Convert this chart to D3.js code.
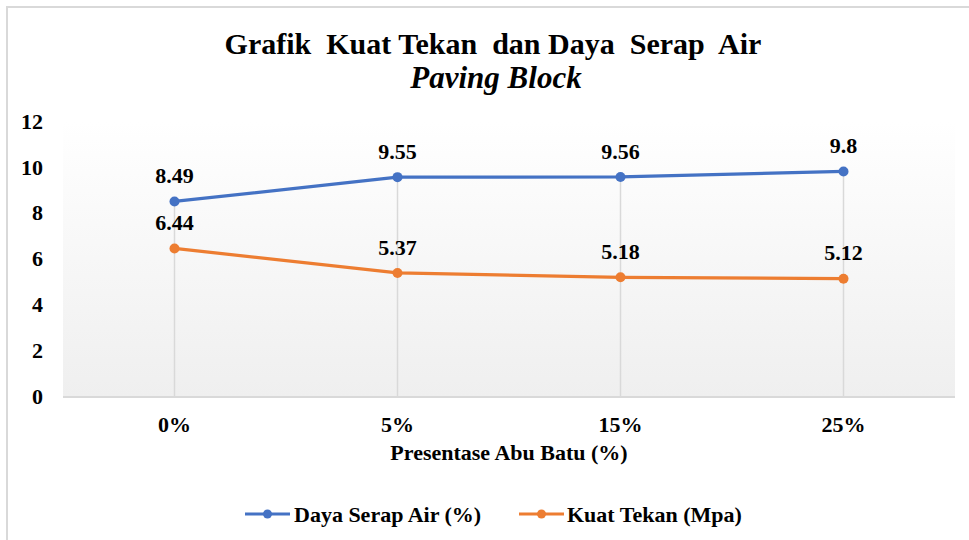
<!DOCTYPE html>
<html><head><meta charset="utf-8">
<script src="https://cdn.jsdelivr.net/npm/d3@7"></script>
<style>body{margin:0;background:#fff}svg{display:block}text{font-family:"Liberation Serif","Times New Roman",serif;font-weight:bold;fill:#000}</style>
</head><body><svg id="c" width="969" height="540"></svg>
<script>
const categories = ["0%","5%","15%","25%"];
const dayaSerapAir = [8.49,9.55,9.56,9.8];
const kuatTekan = [6.44,5.37,5.18,5.12];
const yTicks = [0,2,4,6,8,10,12];
const seriesNames = ["Daya Serap Air (%)","Kuat Tekan (Mpa)"];
const seriesColors = ["#4472C4","#ED7D31"];

const svg = d3.select("#c");
// chart border
svg.append("path").attr("d","M7,545 L7,7 L975,7").attr("fill","none").attr("stroke","#d9d9d9").attr("stroke-width",2);

const x0=63,x1=955,yTop=121,yBot=396;
const x = d3.scaleBand().domain(categories).range([x0,x1]);
const y = d3.scaleLinear().domain([0,12]).range([yBot,yTop]);

const defs=svg.append("defs");
const g=defs.append("linearGradient").attr("id","bg").attr("x1",0).attr("y1",0).attr("x2",0).attr("y2",1);
g.append("stop").attr("offset","0%").attr("stop-color","#ffffff");
g.append("stop").attr("offset","100%").attr("stop-color","#efefef");
svg.append("rect").attr("x",x0).attr("y",yTop).attr("width",x1-x0).attr("height",yBot-yTop).attr("fill","url(#bg)");

// title
svg.append("text").attr("x",493).attr("y",54).attr("text-anchor","middle").style("font-size","30px").attr("xml:space","preserve").text("Grafik  Kuat Tekan  dan Daya  Serap  Air");
svg.append("text").attr("x",496).attr("y",88).attr("text-anchor","middle").style("font-size","31px").style("font-style","italic").text("Paving Block");

// y axis labels
svg.append("g").selectAll("text").data(yTicks).join("text")
  .attr("x",43).attr("y",d=>y(d)).attr("dy","0.35em").attr("text-anchor","end").style("font-size","22px").text(d=>d);

// drop lines
const cx = c => x(c)+x.bandwidth()/2;
svg.append("g").selectAll("line").data(categories).join("line")
  .attr("x1",cx).attr("x2",cx).attr("y1",(c,i)=>y(Math.max(dayaSerapAir[i],kuatTekan[i]))).attr("y2",yBot)
  .attr("stroke","#d9d9d9").attr("stroke-width",1.5);

// x axis line
svg.append("line").attr("x1",x0).attr("x2",x1).attr("y1",yBot+1).attr("y2",yBot+1).attr("stroke","#d9d9d9").attr("stroke-width",2);

// x labels
svg.append("g").selectAll("text").data(categories).join("text")
  .attr("x",cx).attr("y",424).attr("dy","0.35em").attr("text-anchor","middle").style("font-size","22px").text(d=>d);
svg.append("text").attr("x",509).attr("y",452).attr("dy","0.35em").attr("text-anchor","middle").style("font-size","22px").text("Presentase Abu Batu (%)");

// series
const allSeries=[dayaSerapAir,kuatTekan];
const line=d3.line().x((d,i)=>cx(categories[i])).y(d=>y(d));
allSeries.forEach((vals,si)=>{
  const col=seriesColors[si];
  svg.append("path").datum(vals).attr("d",line).attr("fill","none").attr("stroke",col).attr("stroke-width",3.2).attr("stroke-linejoin","round");
  svg.append("g").selectAll("circle").data(vals).join("circle")
    .attr("cx",(d,i)=>cx(categories[i])).attr("cy",d=>y(d)).attr("r",5).attr("fill",col);
  svg.append("g").selectAll("text").data(vals).join("text")
    .attr("x",(d,i)=>cx(categories[i])).attr("y",d=>y(d)-26).attr("dy","0.35em").attr("text-anchor","middle").style("font-size","22px").text(d=>d);
});

// legend
const leg=[{x:245,tx:294},{x:519,tx:567}];
seriesNames.forEach((n,i)=>{
  const lg=svg.append("g");
  lg.append("line").attr("x1",leg[i].x).attr("x2",leg[i].x+45).attr("y1",514).attr("y2",514).attr("stroke",seriesColors[i]).attr("stroke-width",3.2);
  lg.append("circle").attr("cx",leg[i].x+22.5).attr("cy",514).attr("r",4.5).attr("fill",seriesColors[i]);
  lg.append("text").attr("x",leg[i].tx).attr("y",514).attr("dy","0.35em").style("font-size","22px").text(n);
});
</script></body></html>
